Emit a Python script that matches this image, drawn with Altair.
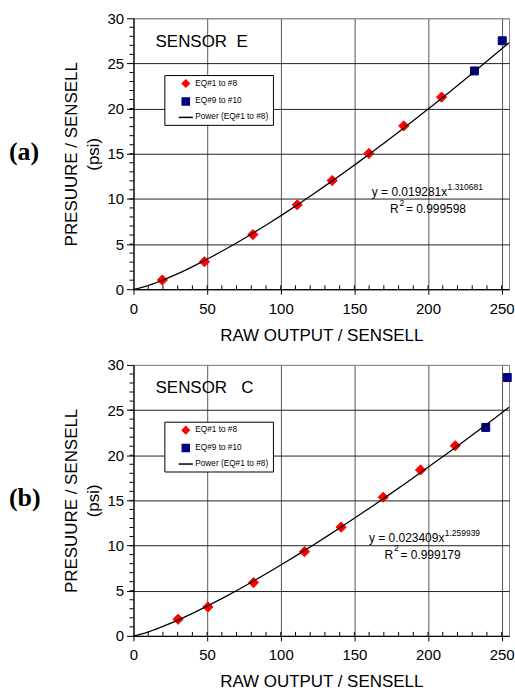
import altair as alt
import pandas as pd

FONT = "Liberation Sans"

# ---- Panel (a): SENSOR E ----
a_fit_x = [19.6, 48.2, 81.1, 111.2, 134.9, 159.9, 183.5, 209.2]
a_fit_y = [1.02, 3.04, 6.05, 9.35, 12.03, 15.03, 18.08, 21.27]
a_ext_x = [231.5, 250.4]
a_ext_y = [24.17, 27.51]

# ---- Panel (b): SENSOR C ----
b_fit_x = [30.3, 50.5, 81.5, 116.1, 141.0, 169.6, 194.9, 218.5]
b_fit_y = [1.84, 3.20, 5.90, 9.32, 12.04, 15.35, 18.37, 21.05]
b_ext_x = [239.2, 253.8]
b_ext_y = [23.08, 28.60]

SERIES = ["EQ#1 to #8", "EQ#9 to #10", "Power (EQ#1 to #8)"]
COLORS = ["#FF0000", "#000080", "#000000"]
SHAPES = ["diamond", "square", "M-2,0H2"]

X_TICKS = [0, 50, 100, 150, 200, 250]
Y_TICKS = [0, 5, 10, 15, 20, 25, 30]
X_MINOR = list(range(10, 251, 10))
Y_MINOR = [v for v in range(1, 30)]

W, H = 377, 272


def panel(fit_x, fit_y, ext_x, ext_y, sensor, eq_main, eq_exp, r2_text,
          letter, eq_pos, r_pos):
    df = pd.DataFrame({
        "x": fit_x + ext_x,
        "y": fit_y + ext_y,
        "series": [SERIES[0]] * len(fit_x) + [SERIES[1]] * len(ext_x),
    })
    xs = alt.Scale(domain=[0, 255], nice=False, zero=False)
    ys = alt.Scale(domain=[0, 30], nice=False)
    x_axis = alt.Axis(values=X_TICKS, grid=True, gridColor="#555", gridWidth=1,
                      domainColor="black", tickColor="black", tickSize=5,
                      labelFontSize=15, labelColor="black", labelPadding=7,
                      title="RAW OUTPUT / SENSELL", titleFontSize=17,
                      titleFontWeight="normal", titleColor="black", titlePadding=11,
                      labelFlush=False)
    y_axis = alt.Axis(values=Y_TICKS, grid=True,
                      gridColor=alt.condition("datum.value == 30", alt.value("#888"), alt.value("#222")),
                      gridWidth=1, domainColor="black", tickColor="black", tickSize=7,
                      labelFontSize=15, labelColor="black", labelPadding=3,
                      title=["PRESUURE / SENSELL", "(psi)"], titleFontSize=17,
                      titleFontWeight="normal", titleColor="black", titlePadding=4,
                      titleLineHeight=23, labelFlush=False)

    def X(field=None, datum=None):
        if datum is not None:
            return alt.X(datum=datum, type="quantitative", scale=xs, axis=x_axis)
        return alt.X(field, type="quantitative", scale=xs, axis=x_axis)

    def Y(field=None, datum=None):
        if datum is not None:
            return alt.Y(datum=datum, type="quantitative", scale=ys, axis=y_axis)
        return alt.Y(field, type="quantitative", scale=ys, axis=y_axis)

    fill = alt.Fill("series:N", scale=alt.Scale(domain=SERIES, range=COLORS), title=None)
    stroke = alt.Stroke("series:N", scale=alt.Scale(domain=SERIES, range=COLORS), title=None)
    shape = alt.Shape("series:N", scale=alt.Scale(domain=SERIES, range=SHAPES), title=None)

    base = alt.Chart(df)

    red = base.transform_filter(alt.datum.series == SERIES[0]).mark_point(
        filled=True, size=105, strokeWidth=1, opacity=1).encode(
        x=X("x"), y=Y("y"), fill=fill, stroke=stroke, shape=shape)
    blue = base.transform_filter(alt.datum.series == SERIES[1]).mark_point(
        filled=True, size=64, strokeWidth=1, opacity=1).encode(
        x=X("x"), y=Y("y"), fill=fill, stroke=stroke, shape=shape)
    line = base.transform_filter(alt.datum.series == SERIES[0]).transform_regression(
        "x", "y", method="pow", extent=[0, 255]).transform_calculate(
        series="'" + SERIES[2] + "'").mark_line(strokeWidth=1.3).encode(
        x=X("x"), y=Y("y"), stroke=stroke)

    xminor = alt.Chart(pd.DataFrame({"x": X_MINOR})).mark_rule(color="black", strokeWidth=1).encode(
        x=X("x"), y=alt.value(H - 4), y2=alt.value(H))
    yminor = alt.Chart(pd.DataFrame({"y": Y_MINOR})).mark_rule(color="black", strokeWidth=1).encode(
        y=Y("y"), x=alt.value(-4), x2=alt.value(0))

    def txt(s, x, y, size, align="left"):
        return alt.Chart(pd.DataFrame({"t": [s]})).mark_text(
            align=align, baseline="middle", fontSize=size, font=FONT, color="black").encode(
            x=X(datum=x), y=Y(datum=y), text="t:N")

    sensor_t = txt(sensor, 15.0, 27.4, 17)
    eq1 = txt(eq_main, eq_pos[0], eq_pos[1], 12, align="right")
    eq1s = txt(eq_exp, eq_pos[0] + 0.3, eq_pos[1] + 0.55, 8.5)
    r_a = txt("R", r_pos[0], r_pos[1], 12, align="right")
    r_s = txt("2", r_pos[0] + 0.6, r_pos[1] + 0.75, 8.5)
    r_b = txt("= " + r2_text, r_pos[0] + 5.0, r_pos[1], 12)

    lab = alt.Chart(pd.DataFrame({"t": [letter]})).mark_text(
        align="left", baseline="middle", fontSize=26, font="Liberation Serif",
        fontWeight="bold", color="black").encode(
        x=alt.value(-125), y=alt.value(134), text="t:N")

    return alt.layer(red, blue, line, xminor, yminor, sensor_t, eq1, eq1s, r_a, r_s, r_b, lab).properties(
        width=W, height=H)


pa = panel(a_fit_x, a_fit_y, a_ext_x, a_ext_y, "SENSOR\u00a0\u00a0E",
           "y = 0.019281x", "1.310681", "0.999598", "(a)", (213.0, 10.8), (180.0, 8.84))
pb = panel(b_fit_x, b_fit_y, b_ext_x, b_ext_y, "SENSOR\u00a0\u00a0\u00a0C",
           "y = 0.023409x", "1.259939", "0.999179", "(b)", (211.1, 10.79), (176.3, 8.94))

chart = alt.vconcat(pa, pb, spacing=13).resolve_scale(
    fill="independent", stroke="independent", shape="independent"
).properties(
    padding={"left": 8, "top": 9, "right": 0, "bottom": 0}
).configure(font=FONT, background="white").configure_view(
    stroke="#888", strokeWidth=1
).configure_legend(
    orient="none", legendX=31, legendY=57, strokeColor="black", fillColor="white",
    padding=4, labelFontSize=8.3, labelColor="black", labelFont=FONT, symbolSize=50,
    symbolStrokeWidth=1.5, rowPadding=3, labelOffset=5, symbolOffset=13,
    cornerRadius=0, symbolOpacity=1
)

chart.save("out.html", embed_options={"renderer": "svg", "actions": False})
